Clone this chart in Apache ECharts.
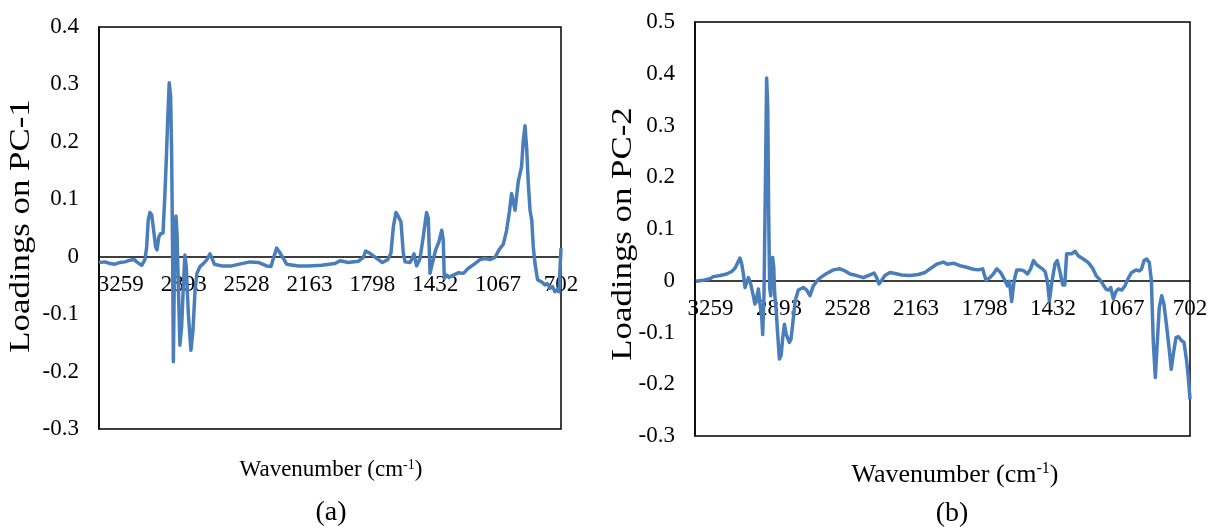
<!DOCTYPE html>
<html>
<head>
<meta charset="utf-8">
<script src="https://cdn.jsdelivr.net/npm/echarts@6/dist/echarts.min.js"></script>
<style>
  html, body { margin: 0; padding: 0; background: #fff; }
  #chart { width: 1211px; height: 529px; }
</style>
</head>
<body>
<div id="chart"></div>
<script>
// Wavenumber tick labels shown along both x axes
const xTickLabels = [3259, 2893, 2528, 2163, 1798, 1432, 1067, 702];

// (a) PC-1 loadings
const wnA = [3386,3351,3322,3293,3264,3235,3206,3181,3167,3138,
  3119,3109,3100,3090,3080,3071,3057,3049,3038,3028,
  3014,3003,2995,2987,2978,2970,2964,2958,2954,2949,
  2945,2939,2933,2927,2916,2906,2896,2887,2879,2867,
  2852,2840,2828,2817,2799,2780,2761,2741,2732,2716,
  2673,2615,2557,2509,2460,2412,2387,2373,2354,2340,
  2321,2296,2228,2170,2093,2015,1986,1938,1880,1850,
  1837,1812,1773,1740,1709,1690,1676,1661,1647,1632,
  1618,1608,1579,1566,1556,1541,1521,1502,1483,1473,
  1463,1450,1430,1411,1395,1386,1380,1366,1353,1328,
  1299,1269,1240,1202,1173,1144,1115,1105,1085,1062,
  1037,1018,1002,989,979,969,960,950,931,921,
  911,901,892,882,872,863,853,838,814,795,
  780,766,752,737,723,714,702];
const pc1 = [-0.010,-0.009,-0.012,-0.013,-0.010,-0.009,-0.006,-0.005,-0.009,-0.015,
  -0.005,0.017,0.064,0.077,0.073,0.052,0.017,0.012,0.035,0.040,
  0.041,0.110,0.169,0.238,0.303,0.279,0.180,-0.006,-0.183,-0.052,
  0.035,0.071,0.041,-0.029,-0.154,-0.122,-0.052,0.003,-0.017,-0.099,
  -0.163,-0.128,-0.058,-0.029,-0.017,-0.012,-0.006,0.005,-0.001,-0.013,
  -0.016,-0.016,-0.012,-0.009,-0.010,-0.016,-0.017,-0.003,0.015,0.009,
  0.000,-0.013,-0.016,-0.016,-0.015,-0.012,-0.007,-0.010,-0.008,-0.001,
  0.010,0.006,-0.003,-0.010,-0.005,0.006,0.052,0.077,0.070,0.061,
  0.006,-0.009,-0.010,-0.003,0.005,-0.016,-0.003,0.035,0.077,0.067,
  -0.029,-0.012,0.012,0.026,0.046,0.029,-0.038,-0.032,-0.036,-0.032,
  -0.028,-0.029,-0.020,-0.012,-0.005,-0.003,-0.005,-0.007,-0.001,0.012,
  0.022,0.046,0.078,0.110,0.096,0.081,0.105,0.131,0.157,0.203,
  0.228,0.186,0.128,0.081,0.064,0.017,-0.012,-0.040,-0.044,-0.049,
  -0.047,-0.055,-0.052,-0.061,-0.057,-0.061,0.015];

// (b) PC-2 loadings
const wnB = [3338,3297,3262,3244,3208,3173,3146,3129,3114,3102,
  3093,3084,3075,3066,3057,3045,3031,3022,3013,3004,
  2995,2986,2981,2974,2967,2960,2954,2949,2944,2938,
  2933,2928,2922,2917,2910,2901,2892,2883,2874,2865,
  2856,2848,2839,2830,2821,2808,2791,2764,2746,2729,
  2711,2689,2666,2640,2604,2569,2542,2515,2480,2444,
  2412,2387,2373,2361,2346,2329,2302,2275,2240,2195,
  2151,2115,2089,2053,2017,1996,1964,1929,1893,1857,
  1831,1808,1790,1769,1751,1733,1712,1689,1676,1665,
  1653,1640,1626,1605,1587,1569,1552,1537,1520,1493,
  1475,1463,1452,1440,1422,1410,1395,1381,1370,1360,
  1351,1333,1315,1297,1271,1244,1221,1203,1185,1168,
  1150,1136,1125,1111,1097,1084,1066,1049,1031,1013,
  990,972,960,947,933,919,908,898,887,876,
  866,853,841,826,814,802,791,777,764,746,
  734,720,711,702];
const pc2 = [-0.001,0.001,0.004,0.008,0.010,0.013,0.018,0.024,0.035,0.044,
  0.033,0.013,-0.013,-0.003,0.006,-0.006,-0.029,-0.045,-0.032,-0.016,
  -0.045,-0.071,-0.104,-0.026,0.174,0.392,0.335,0.129,-0.013,-0.029,
  0.039,0.045,0.026,-0.026,-0.052,-0.103,-0.151,-0.145,-0.110,-0.084,
  -0.103,-0.106,-0.119,-0.113,-0.084,-0.039,-0.018,-0.013,-0.018,-0.029,
  -0.010,0.001,0.008,0.014,0.021,0.023,0.019,0.013,0.010,0.006,
  0.011,0.015,0.006,-0.006,0.001,0.010,0.016,0.014,0.011,0.010,
  0.012,0.016,0.023,0.032,0.036,0.032,0.034,0.029,0.026,0.022,
  0.021,0.023,0.001,0.006,0.013,0.023,0.016,0.001,-0.010,-0.001,
  -0.040,0.000,0.021,0.021,0.019,0.013,0.023,0.039,0.031,0.024,
  0.018,0.000,-0.039,-0.006,0.033,0.039,0.016,-0.008,-0.008,0.052,
  0.055,0.052,0.057,0.048,0.042,0.035,0.024,0.010,0.003,-0.006,
  -0.016,-0.018,-0.013,-0.035,-0.021,-0.016,-0.018,-0.010,0.005,0.016,
  0.021,0.019,0.023,0.039,0.042,0.035,0.000,-0.116,-0.187,-0.116,
  -0.052,-0.029,-0.045,-0.090,-0.129,-0.171,-0.142,-0.110,-0.108,-0.116,
  -0.119,-0.155,-0.187,-0.229];

const FONT = 'Liberation Serif, Times New Roman, serif';
const LINE_COLOR = '#4a7ebb';
const xStep = (xTickLabels[0] - xTickLabels[xTickLabels.length - 1]) / (xTickLabels.length - 1);

// Plot boxes (pixels) for the two panels
const boxA = { left: 99, right: 650, top: 27, bottom: 100 };
const boxB = { left: 695, right: 21, top: 22, bottom: 93 };
const H = 529;

function zip(xs, ys) { return xs.map((x, i) => [x, ys[i]]); }

function xLabel(val) {
  const t = xTickLabels.find(v => Math.abs(v - val) < 5);
  return t === undefined ? '' : String(t);
}

// The wavenumber axis sits on the zero line, with its labels just below it
function makeX(gridIndex, maxWn, box, yMin, yMax) {
  const plotH = H - box.top - box.bottom;
  const zeroUp = plotH * (0 - yMin) / (yMax - yMin);
  return {
    type: 'value', gridIndex, inverse: true,
    min: 702, max: maxWn, interval: xStep,
    offset: -zeroUp,
    axisLine: { show: true, onZero: false, lineStyle: { color: '#000', width: 1.6 } },
    axisTick: { show: false },
    splitLine: { show: false },
    axisLabel: { formatter: xLabel, fontFamily: FONT, fontSize: 23, color: '#000', margin: 17 }
  };
}
function makeY(gridIndex, min, max) {
  return {
    type: 'value', gridIndex, min, max, interval: 0.1,
    axisLine: { show: true, onZero: false, lineStyle: { color: '#000', width: 1.5 } },
    axisTick: { show: false },
    splitLine: { show: false },
    axisLabel: { fontFamily: FONT, fontSize: 23, color: '#000', margin: 20 }
  };
}
function lineSeries(idx, data) {
  return {
    type: 'line', xAxisIndex: idx, yAxisIndex: idx, data,
    showSymbol: false, smooth: false,
    lineStyle: { color: LINE_COLOR, width: 3.5, join: 'round' },
    itemStyle: { color: LINE_COLOR }
  };
}
function titleText(x, y, rot, text, size, stretch) {
  return {
    type: 'text', x, y, rotation: rot, scaleX: stretch || 1,
    style: { text, fontFamily: FONT, fontSize: size, fill: '#000', textAlign: 'center', textVerticalAlign: 'middle' }
  };
}
function xTitle(x, y, size) {
  return {
    type: 'text', x, y,
    style: {
      text: '{a|Wavenumber (cm}{s|-1}{a|)}',
      textAlign: 'center', textVerticalAlign: 'middle',
      rich: {
        a: { fontFamily: FONT, fontSize: size, fill: '#000', color: '#000' },
        s: { fontFamily: FONT, fontSize: Math.round(size * 0.6), fill: '#000', color: '#000',
             verticalAlign: 'top', padding: [0, 0, Math.round(size * 0.45), 0] }
      }
    }
  };
}

const chart = echarts.init(document.getElementById('chart'), null, { renderer: 'canvas' });
chart.setOption({
  backgroundColor: '#fff',
  animation: false,
  grid: [
    Object.assign({ show: true, borderColor: '#000', borderWidth: 1.5 }, boxA),
    Object.assign({ show: true, borderColor: '#000', borderWidth: 1.5 }, boxB)
  ],
  xAxis: [makeX(0, 3386, boxA, -0.3, 0.4), makeX(1, 3342, boxB, -0.3, 0.5)],
  yAxis: [makeY(0, -0.3, 0.4), makeY(1, -0.3, 0.5)],
  series: [lineSeries(0, zip(wnA, pc1)), lineSeries(1, zip(wnB, pc2))],
  graphic: [
    titleText(21, 226, Math.PI / 2, 'Loadings on PC-1', 29, 1.2),
    titleText(623, 234, Math.PI / 2, 'Loadings on PC-2', 29, 1.2),
    xTitle(331, 470, 23),
    xTitle(955, 475, 26),
    titleText(331, 513, 0, '(a)', 28),
    titleText(952, 514, 0, '(b)', 28)
  ]
});
</script>
</body>
</html>
